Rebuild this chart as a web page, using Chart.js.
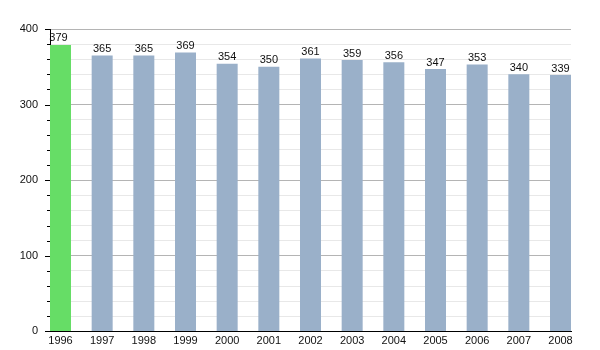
<!DOCTYPE html>
<html>
<head>
<meta charset="utf-8">
<script src="https://cdn.jsdelivr.net/npm/chart.js@4"></script>
<style>
html,body{margin:0;padding:0;background:#fff;}
#c{display:block;}
</style>
</head>
<body>
<canvas id="c" width="600" height="350"></canvas>
<script>
const years = ["1996","1997","1998","1999","2000","2001","2002","2003","2004","2005","2006","2007","2008"];
const population = [379,365,365,369,354,350,361,359,356,347,353,340,339];
const yTickValues = [0,100,200,300,400];

const barColors = years.map((y,i)=> i===0 ? '#66dd66' : '#9ab0c9');
const points = population.map((v,i)=>({x:i,y:v}));

const valueLabels = {
  id:'valueLabels',
  afterDatasetsDraw(chart){
    const ctx = chart.ctx;
    const meta = chart.getDatasetMeta(0);
    ctx.save();
    ctx.font = '11px "Liberation Sans", Arial, sans-serif';
    ctx.fillStyle = '#111';
    ctx.textAlign = 'center';
    ctx.textBaseline = 'bottom';
    meta.data.forEach((el,i)=>{
      ctx.fillText(String(population[i]), el.x - (i===0?2:0), el.y - 1);
    });
    ctx.restore();
  }
};

const yTickMarks = {
  id:'yTickMarks',
  afterDraw(chart){
    const ctx = chart.ctx;
    const ys = chart.scales.y;
    const x0 = chart.chartArea.left;
    ctx.save();
    ctx.strokeStyle = '#000';
    ctx.lineWidth = 1;
    ys.ticks.forEach(t=>{
      const py = Math.round(ys.getPixelForValue(t.value)) + 0.5;
      const len = (t.value % 100 === 0) ? 5 : 3;
      ctx.beginPath();
      ctx.moveTo(x0 - len, py);
      ctx.lineTo(x0, py);
      ctx.stroke();
    });
    ctx.restore();
  }
};

new Chart(document.getElementById('c'), {
  type:'bar',
  data:{
    datasets:[{
      data: points,
      backgroundColor: barColors,
      borderWidth:0,
      barPercentage:0.504,
      categoryPercentage:1
    }]
  },
  options:{
    responsive:false,
    animation:false,
    layout:{padding:{left:0,right:29,top:29,bottom:-2.2}},
    plugins:{legend:{display:false},tooltip:{enabled:false}},
    scales:{
      x:{
        type:'linear',
        offset:false,
        min:-0.252,
        max:12.252,
        grid:{display:false, drawTicks:false, offset:false},
        border:{display:true,color:'#000',width:1},
        ticks:{
          stepSize:1,
          includeBounds:false,
          autoSkip:false,
          maxRotation:0,
          padding:3,
          color:'#111',
          font:{family:'"Liberation Sans", Arial, sans-serif',size:11},
          callback:(v)=> Number.isInteger(v) && years[v] !== undefined ? years[v] : ''
        },
        afterFit:(s)=>{s.height = 15;}
      },
      y:{
        min:0,
        max:400,
        grid:{
          drawTicks:false,
          color:(c)=> (c.tick && c.tick.value % 100 === 0) ? '#b4b4b4' : '#e8e8e8',
          lineWidth:1
        },
        border:{display:true,color:'#000',width:1},
        ticks:{
          stepSize:20,
          maxTicksLimit:50,
          autoSkip:false,
          padding:12,
          color:'#111',
          font:{family:'"Liberation Sans", Arial, sans-serif',size:11},
          callback:(v)=> yTickValues.includes(v) ? String(v) : ''
        },
        afterFit:(s)=>{s.width = 50;}
      }
    }
  },
  plugins:[valueLabels, yTickMarks]
});
</script>
</body>
</html>
